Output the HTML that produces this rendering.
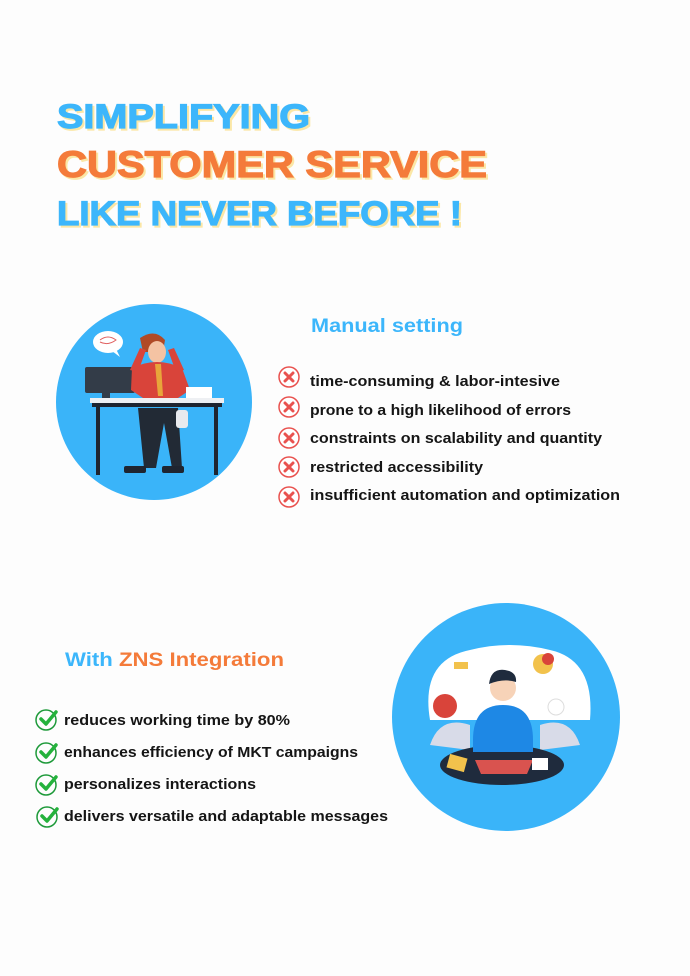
<!DOCTYPE html>
<html><head><meta charset="utf-8"><style>
html,body{margin:0;padding:0;background:#fdfdfd;}
svg{display:block}
text{font-family:"Liberation Sans",sans-serif;font-weight:bold}
</style></head><body>
<svg width="690" height="976" viewBox="0 0 690 976" xmlns="http://www.w3.org/2000/svg">
<rect width="690" height="976" fill="#fdfdfd"/>
<!-- Title -->
<g font-size="34">
<text x="59" y="130" fill="#fbe7a6" stroke="#fbe7a6" stroke-width="1.2" textLength="253" lengthAdjust="spacingAndGlyphs">SIMPLIFYING</text>
<text x="57" y="128" fill="#3cb6fb" stroke="#3cb6fb" stroke-width="1.2" textLength="253" lengthAdjust="spacingAndGlyphs">SIMPLIFYING</text>
<text x="59" y="179" fill="#fbe7a6" stroke="#fbe7a6" stroke-width="1.2" font-size="37" textLength="430" lengthAdjust="spacingAndGlyphs">CUSTOMER SERVICE</text>
<text x="57" y="177" fill="#f47b3a" stroke="#f47b3a" stroke-width="1.2" font-size="37" textLength="430" lengthAdjust="spacingAndGlyphs">CUSTOMER SERVICE</text>
<text x="59" y="227" fill="#fbe7a6" stroke="#fbe7a6" stroke-width="1.2" textLength="405" lengthAdjust="spacingAndGlyphs">LIKE NEVER BEFORE !</text>
<text x="57" y="225" fill="#3cb6fb" stroke="#3cb6fb" stroke-width="1.2" textLength="405" lengthAdjust="spacingAndGlyphs">LIKE NEVER BEFORE !</text>
</g>

<!-- Circle 1 illustration -->
<circle cx="154" cy="402" r="98" fill="#3ab4f9"/>
<ellipse cx="108" cy="342" rx="15" ry="11" fill="#fff"/>
<path d="M112 351 L120 357 L116 349Z" fill="#fff"/>
<path d="M100 340 q8 -6 16 0 q-8 6 -16 2" stroke="#e06060" fill="none" stroke-width="1"/>
<rect x="85" y="367" width="50" height="26" rx="2" fill="#333c48"/>
<rect x="102" y="393" width="8" height="6" fill="#333c48"/>
<path d="M140 338 q15 -10 25 2 l-2 12 -20 0z" fill="#b04a26"/>
<ellipse cx="157" cy="352" rx="9" ry="11" fill="#f4c3a3"/>
<path d="M132 368 q25 -12 50 0 l8 22 -12 8 -35 0 -12 -8z" fill="#d9443a"/>
<path d="M155 364 l6 0 2 32 -5 0z" fill="#e8a53a"/>
<path d="M130 370 l10 -22 6 2 -8 22z M184 370 l-10 -22 -6 2 8 22z" fill="#d9443a"/>
<rect x="186" y="387" width="26" height="12" fill="#fff"/>
<rect x="90" y="398" width="134" height="5" fill="#eef0f3"/>
<rect x="92" y="403" width="130" height="4" fill="#1f2530"/>
<rect x="96" y="407" width="4" height="68" fill="#1f2530"/>
<rect x="214" y="407" width="4" height="68" fill="#1f2530"/>
<path d="M138 408 l40 0 4 60 -10 0 -8 -45 -8 45 -12 0z" fill="#222a35"/>
<rect x="176" y="410" width="12" height="18" rx="3" fill="#e8eaee"/>
<rect x="124" y="466" width="22" height="7" rx="2" fill="#1f2530"/>
<rect x="162" y="466" width="22" height="7" rx="2" fill="#1f2530"/>

<!-- Manual setting -->
<text x="311" y="332" font-size="19" fill="#3cb6fb" textLength="152" lengthAdjust="spacingAndGlyphs">Manual setting</text>
<g font-size="15" fill="#151515">
<text x="310" y="386" textLength="250" lengthAdjust="spacingAndGlyphs">time-consuming &amp; labor-intesive</text>
<text x="310" y="415" textLength="261" lengthAdjust="spacingAndGlyphs">prone to a high likelihood of errors</text>
<text x="310" y="443" textLength="292" lengthAdjust="spacingAndGlyphs">constraints on scalability and quantity</text>
<text x="310" y="472" textLength="173" lengthAdjust="spacingAndGlyphs">restricted accessibility</text>
<text x="310" y="500" textLength="310" lengthAdjust="spacingAndGlyphs">insufficient automation and optimization</text>
</g>
<g fill="#fff" stroke="#e9524f" stroke-width="1.5">
<circle cx="289" cy="377" r="10"/><circle cx="289" cy="407" r="10"/><circle cx="289" cy="438" r="10"/><circle cx="289" cy="467" r="10"/><circle cx="289" cy="497" r="10"/>
</g>
<g stroke="#e9524f" stroke-width="3" stroke-linecap="round">
<path d="M285 373l8 8M293 373l-8 8"/><path d="M285 403l8 8M293 403l-8 8"/><path d="M285 434l8 8M293 434l-8 8"/><path d="M285 463l8 8M293 463l-8 8"/><path d="M285 493l8 8M293 493l-8 8"/>
</g>

<!-- ZNS -->
<text x="65" y="666" font-size="19" fill="#3cb6fb" textLength="219" lengthAdjust="spacingAndGlyphs">With <tspan fill="#f47b3a">ZNS Integration</tspan></text>
<g font-size="15" fill="#151515">
<text x="64" y="725" textLength="226" lengthAdjust="spacingAndGlyphs">reduces working time by 80%</text>
<text x="64" y="757" textLength="294" lengthAdjust="spacingAndGlyphs">enhances efficiency of MKT campaigns</text>
<text x="64" y="789" textLength="192" lengthAdjust="spacingAndGlyphs">personalizes interactions</text>
<text x="64" y="821" textLength="324" lengthAdjust="spacingAndGlyphs">delivers versatile and adaptable messages</text>
</g>
<g fill="none" stroke="#1e9a3a" stroke-width="1.5">
<circle cx="46" cy="720" r="10"/><circle cx="46" cy="753" r="10"/><circle cx="46" cy="785" r="10"/><circle cx="47" cy="817" r="10"/>
</g>
<g fill="none" stroke="#24b23c" stroke-width="3.5" stroke-linecap="round" stroke-linejoin="round">
<path d="M41 719l5 5 10-12"/><path d="M41 752l5 5 10-12"/><path d="M41 784l5 5 10-12"/><path d="M42 816l5 5 10-12"/>
</g>

<!-- Circle 2 illustration -->
<circle cx="506" cy="717" r="114" fill="#3ab4f9"/>
<path d="M430 720 q-10 -60 40 -70 q40 -10 80 0 q45 10 40 70z" fill="#fff"/>
<path d="M430 745 q10 -30 40 -20 l0 25z M580 745 q-10 -30 -40 -20 l0 25z" fill="#d8dbe8"/>
<ellipse cx="502" cy="765" rx="62" ry="20" fill="#1f2b3d"/>
<path d="M473 740 q0 -35 30 -35 q30 0 30 35 l0 12 -60 0z" fill="#1e88e5"/>
<circle cx="503" cy="688" r="13" fill="#f7d3b8"/>
<path d="M489 684 q2 -16 16 -14 q12 2 11 12 q-12 -4 -27 2z" fill="#1f2b3d"/>
<path d="M475 760 l58 0 -6 14 -46 0z" fill="#d9534f"/>
<rect x="448" y="756" width="18" height="14" fill="#f2c24c" transform="rotate(15 457 763)"/>
<rect x="532" y="758" width="16" height="12" fill="#fff"/>
<circle cx="445" cy="706" r="12" fill="#d9443a"/>
<circle cx="543" cy="664" r="10" fill="#f2c24c"/>
<circle cx="548" cy="659" r="6" fill="#d9443a"/>
<circle cx="556" cy="707" r="8" fill="#fff" stroke="#ddd"/>
<path d="M454 662 l14 0 0 7 -14 0z" fill="#f2c24c"/>
</svg>
</body></html>
